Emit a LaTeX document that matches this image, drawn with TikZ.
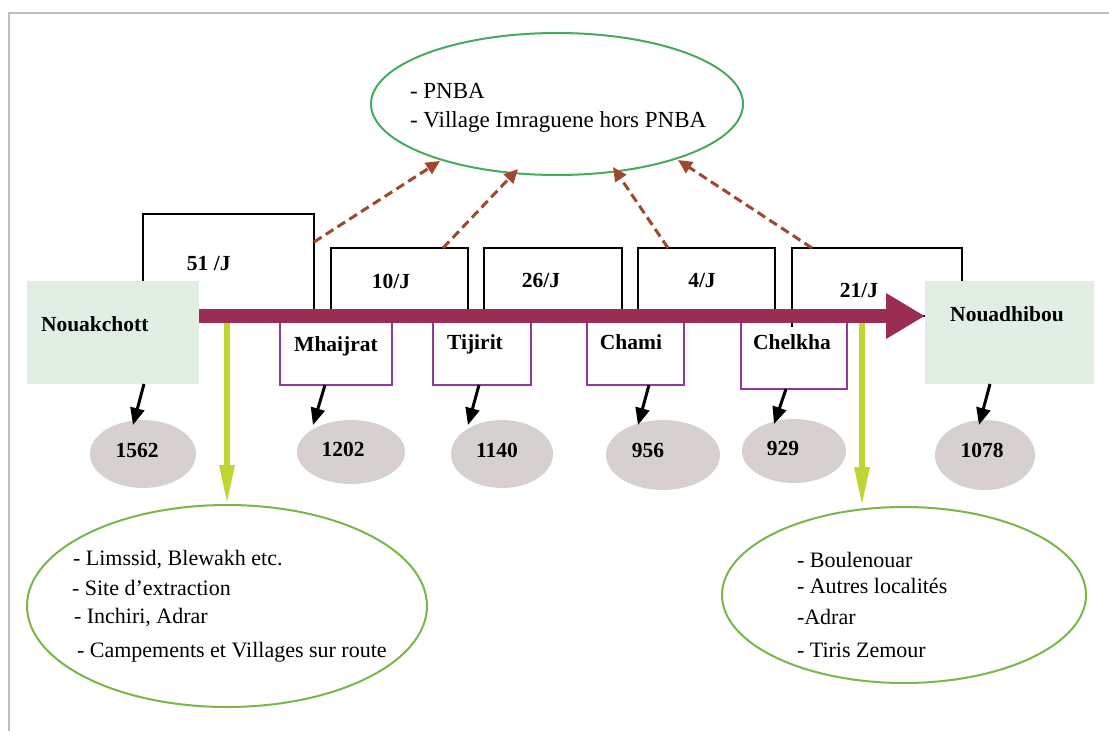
\documentclass[tikz,border=0pt]{standalone}
\usepackage{fontspec}
\setmainfont{Liberation Serif}
\usetikzlibrary{shapes.geometric,arrows.meta}
\definecolor{frameg}{RGB}{192,192,192}
\definecolor{topgreen}{RGB}{70,170,95}
\definecolor{botgreen}{RGB}{122,182,72}
\definecolor{ygreen}{RGB}{190,214,50}
\definecolor{routec}{RGB}{155,45,85}
\definecolor{purp}{RGB}{140,60,150}
\definecolor{cityfill}{RGB}{224,238,228}
\definecolor{popfill}{RGB}{214,208,207}
\definecolor{dashbrown}{RGB}{160,72,45}
\begin{document}
\begin{tikzpicture}[x=1pt,y=-1pt,
  every node/.style={inner sep=0pt, outer sep=0pt},
  bl/.style={font=\fontsize{21.5}{25}\selectfont\bfseries, anchor=base},
  rg/.style={font=\fontsize{22}{26}\selectfont, anchor=base west},
  rgt/.style={font=\fontsize{23}{27}\selectfont, anchor=base west},
  topbox/.style={draw=black, line width=1.6pt, rectangle},
  stopbox/.style={draw=purp, line width=1.5pt, rectangle},
  city/.style={fill=cityfill, rectangle},
  pop/.style={ellipse, fill=popfill},
  zone/.style={ellipse, line width=2pt},
  blk/.style={line width=3pt, -{Triangle[length=17pt,width=14pt]}},
  dsh/.style={dashbrown, line width=3pt, dash pattern=on 9pt off 5pt, -{Triangle[length=14pt,width=13pt]}},
  grn/.style={ygreen, line width=6pt, -{Triangle[length=40pt,width=14pt]}},
]
\useasboundingbox (0,0) rectangle (1109,731);
\fill[white] (0,0) rectangle (1109,731);
\draw[frameg, line width=2.5pt] (9,731) -- (9,13) -- (1109,13);

% top boxes (frequencies)
\node[topbox, minimum width=171pt, minimum height=102pt] (b51) at (228.5,265) {};
\node[topbox, minimum width=137pt, minimum height=68pt] (b10) at (399.5,282) {};
\node[topbox, minimum width=138pt, minimum height=68pt] (b26) at (553,282) {};
\node[topbox, minimum width=137pt, minimum height=68pt] (b4) at (706.5,282) {};
\node[topbox, minimum width=170pt, minimum height=68pt] (b21) at (877,282) {};
% left edge of the 21/J box reaches just below the route
\draw[black, line width=1.6pt] (b21.south west) -- ++(0,11);
\node[bl] (l51) at (208.7,270) {51 /J};
\node[bl] (l10) at (391,288) {10/J};
\node[bl] (l26) at (541,287) {26/J};
\node[bl] (l4) at (702,287) {4/J};
\node[bl] (l21) at (859,297) {21/J};

% stops
\node[stopbox, minimum width=112pt, minimum height=69pt] (sMh) at (336,350.5) {};
\node[stopbox, minimum width=98pt, minimum height=69pt] (sTi) at (482,350.5) {};
\node[stopbox, minimum width=97pt, minimum height=69pt] (sCh) at (635.5,350.5) {};
\node[stopbox, minimum width=106pt, minimum height=73pt] (sCk) at (794,352.5) {};
\node[bl] (tMh) at (336,351) {Mhaijrat};
\node[bl] (tTi) at (475,349) {Tijirit};
\node[bl] (tCh) at (631,349) {Chami};
\node[bl] (tCk) at (792,349) {Chelkha};

% cities
\node[city, minimum width=172pt, minimum height=103pt] (nk) at (113,332.5) {};
\node[city, minimum width=169pt, minimum height=103pt] (nd) at (1009.5,332.5) {};
\node[bl, anchor=base west] (tnk) at (41,331) {Nouakchott};
\node[bl] (tnd) at (1007,321) {Nouadhibou};

% main route arrow
\coordinate (a0) at (199,316);
\draw[routec, line width=14pt, -{Triangle[length=39pt,width=43pt]}] (nk.east |- a0) -- (nd.west |- a0);

% population ellipses
\node[pop, minimum width=106pt, minimum height=68pt] (e1) at (143,454) {};
\node[pop, minimum width=108pt, minimum height=64pt] (e2) at (351,452) {};
\node[pop, minimum width=102pt, minimum height=68pt] (e3) at (502,454) {};
\node[pop, minimum width=114pt, minimum height=70pt] (e4) at (663,455) {};
\node[pop, minimum width=104pt, minimum height=64pt] (e5) at (794,451) {};
\node[pop, minimum width=100pt, minimum height=70pt] (e6) at (985,455) {};
\node[bl] (n1) at (137,457) {1562};
\node[bl] (n2) at (343,456) {1202};
\node[bl] (n3) at (497,457) {1140};
\node[bl] (n4) at (648,457) {956};
\node[bl] (n5) at (783,455) {929};
\node[bl] (n6) at (982,457) {1078};

% black arrows
\draw[blk] ([xshift=31pt]nk.south) -- ([shift={(-10,-29)}]e1.center);
\draw[blk] ([xshift=-11pt]sMh.south) -- ([shift={(-38,-27)}]e2.center);
\draw[blk] ([xshift=-3pt]sTi.south) -- ([shift={(-34,-29)}]e3.center);
\draw[blk] ([xshift=13.5pt]sCh.south) -- ([shift={(-25,-30)}]e4.center);
\draw[blk] ([xshift=-8pt]sCk.south) -- ([shift={(-20,-27)}]e5.center);
\draw[blk] ([xshift=-19.5pt]nd.south) -- ([shift={(-6,-30)}]e6.center);

% zones
\node[zone, draw=topgreen, minimum width=372pt, minimum height=142pt] (zt) at (557,104) {};
\node[zone, draw=botgreen, minimum width=400pt, minimum height=202pt] (zl) at (227,606) {};
\node[zone, draw=botgreen, minimum width=364pt, minimum height=176pt] (zr) at (904,595) {};
\node[rgt] (zt1) at (410,98) {- PNBA};
\node[rgt] (zt2) at (410,127) {- Village Imraguene hors PNBA};
\node[rg] (zl1) at (73,565) {- Limssid, Blewakh etc.};
\node[rg] (zl2) at (72,595) {- Site d’extraction};
\node[rg] (zl3) at (74,623) {- Inchiri, Adrar};
\node[rg] (zl4) at (77,657) {- Campements et Villages sur route};
\node[rg] (zr1) at (797,567) {- Boulenouar};
\node[rg] (zr2) at (797,593) {- Autres localités};
\node[rg] (zr3) at (797,624) {-Adrar};
\node[rg] (zr4) at (797,657) {- Tiris Zemour};

% dashed arrows to top zone
\draw[dsh] ([yshift=-28pt]b51.north east) -- ([shift={(-117,57)}]zt.center);
\draw[dsh] ([xshift=43.5pt]b10.north) -- ([shift={(-39,65)}]zt.center);
\draw[dsh] ([xshift=-38.5pt]b4.north) -- ([shift={(56,63)}]zt.center);
\draw[dsh] ([xshift=-65pt]b21.north) -- ([shift={(121,56)}]zt.center);

% green arrows to bottom zones
\coordinate (g1) at (227,323);
\coordinate (g2) at (862,323);
\draw[grn] (g1) -- (zl.north);
\draw[grn] (g2) -- (g2 |- zr.north);
\end{tikzpicture}
\end{document}
